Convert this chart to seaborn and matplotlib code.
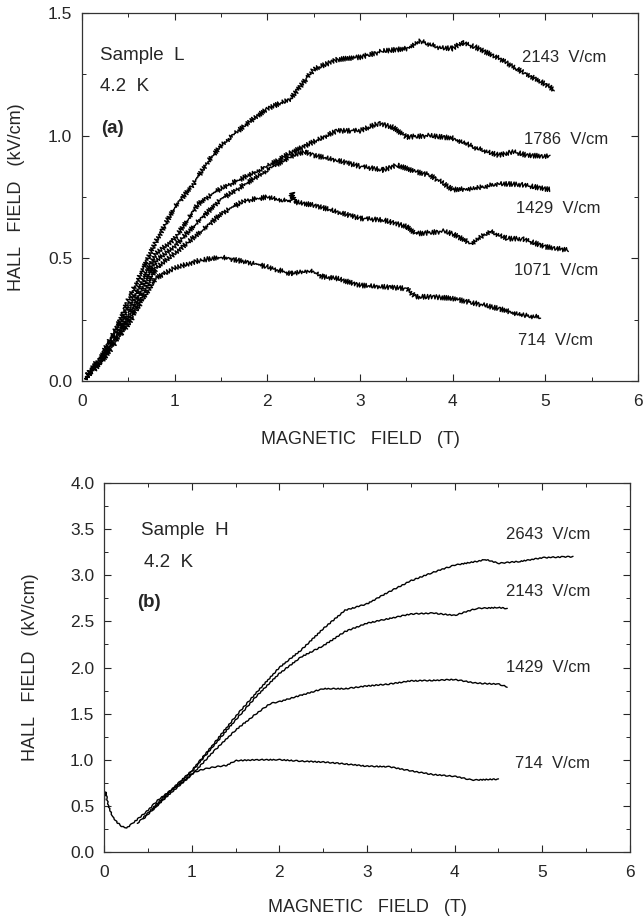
import numpy as np
import pandas as pd
import matplotlib
matplotlib.use("Agg")
import matplotlib.pyplot as plt
from matplotlib.ticker import MultipleLocator, FormatStrFormatter
import seaborn as sns

sns.set_style("ticks")
plt.rcParams['font.family'] = ['Liberation Sans', 'DejaVu Sans']
plt.rc('font', size=12.)
plt.rc('xtick', labelsize=12.5, direction='in', top=True)
plt.rc('ytick', labelsize=12.5, direction='in', right=True)
plt.rc('xtick.major', size=5, width=0.8, pad=9)
plt.rc('ytick.major', size=5, width=0.8, pad=7)
plt.rc('xtick.minor', size=3, width=0.7, visible=True)
plt.rc('ytick.minor', size=3, width=0.7, visible=True)
plt.rc('axes', linewidth=0.9, edgecolor='#333333')

# ---- panel (a): sample L ----
a_x_2143 = [0.03, 0.1, 0.2, 0.35, 0.5, 0.65, 0.8, 1.0, 1.2, 1.35, 1.5, 1.75, 2.0, 2.25, 2.5,
            2.75, 3.0, 3.25, 3.5, 3.65, 3.85, 4.0, 4.1, 4.25, 4.5, 4.75, 5.0, 5.1]
a_y_2143 = [0.01, 0.05, 0.1, 0.2, 0.33, 0.45, 0.57, 0.71, 0.8, 0.89, 0.96, 1.04, 1.11, 1.15, 1.27,
            1.31, 1.32, 1.345, 1.355, 1.385, 1.36, 1.355, 1.38, 1.36, 1.315, 1.26, 1.21, 1.185]
a_x_1786 = [0.03, 0.2, 0.35, 0.5, 0.65, 0.8, 1.0, 1.25, 1.5, 1.75, 2.0, 2.25, 2.5, 2.75, 3.0,
            3.2, 3.35, 3.5, 3.75, 4.0, 4.25, 4.5, 4.65, 4.8, 5.05]
a_y_1786 = [0.01, 0.09, 0.19, 0.3, 0.41, 0.52, 0.58, 0.72, 0.785, 0.83, 0.875, 0.93, 0.975, 1.02, 1.02,
            1.05, 1.035, 0.995, 1.0, 0.99, 0.95, 0.92, 0.935, 0.92, 0.915]
a_x_1429 = [0.03, 0.2, 0.35, 0.5, 0.65, 0.8, 1.0, 1.25, 1.5, 1.75, 2.0, 2.25, 2.4, 2.5, 2.75,
            3.0, 3.25, 3.4, 3.6, 3.75, 3.9, 4.0, 4.25, 4.5, 4.75, 5.05]
a_y_1429 = [0.01, 0.08, 0.17, 0.27, 0.38, 0.49, 0.55, 0.65, 0.74, 0.80, 0.86, 0.915, 0.935, 0.92, 0.90,
            0.875, 0.86, 0.88, 0.853, 0.84, 0.805, 0.78, 0.785, 0.805, 0.80, 0.78]
a_x_1071 = [0.03, 0.2, 0.35, 0.5, 0.65, 0.8, 1.0, 1.25, 1.5, 1.75, 2.0, 2.25, 2.27, 2.29, 2.5,
            2.75, 3.0, 3.25, 3.5, 3.6, 3.9, 4.0, 4.2, 4.4, 4.6, 4.75, 5.0, 5.25]
a_y_1071 = [0.01, 0.08, 0.16, 0.25, 0.35, 0.46, 0.52, 0.6, 0.68, 0.735, 0.75, 0.73, 0.77, 0.73, 0.717,
            0.69, 0.663, 0.656, 0.63, 0.60, 0.61, 0.60, 0.56, 0.61, 0.58, 0.58, 0.547, 0.533]
a_x_714 = [0.03, 0.2, 0.35, 0.5, 0.65, 0.8, 1.0, 1.25, 1.5, 1.75, 2.0, 2.25, 2.45, 2.6, 2.75,
           3.0, 3.25, 3.5, 3.6, 3.8, 4.0, 4.25, 4.5, 4.75, 4.95]
a_y_714 = [0.01, 0.07, 0.15, 0.23, 0.33, 0.42, 0.46, 0.49, 0.506, 0.486, 0.465, 0.438, 0.45, 0.425, 0.418,
           0.39, 0.384, 0.377, 0.343, 0.343, 0.336, 0.316, 0.295, 0.268, 0.26]

a_labels = ['2143  V/cm', '1786  V/cm', '1429  V/cm', '1071  V/cm', '714  V/cm']
a_label_x = [4.75, 4.77, 4.68, 4.66, 4.71]
a_label_y = [1.318, 0.986, 0.703, 0.452, 0.166]

# ---- panel (b): sample H ----
b_x_2643 = [0.38, 0.5, 0.6, 0.75, 1.0, 1.25, 1.5, 1.75, 2.0, 2.25, 2.5, 2.75, 3.0, 3.25, 3.5,
            3.75, 4.0, 4.25, 4.35, 4.5, 4.75, 5.0, 5.25, 5.35]
b_y_2643 = [0.31, 0.42, 0.52, 0.66, 0.88, 1.17, 1.47, 1.74, 2.0, 2.19, 2.42, 2.62, 2.69, 2.82, 2.94,
            3.03, 3.11, 3.15, 3.17, 3.13, 3.15, 3.19, 3.2, 3.2]
b_x_2143 = [0.45, 0.6, 0.75, 1.0, 1.25, 1.5, 1.75, 2.0, 2.25, 2.5, 2.75, 3.0, 3.25, 3.5, 3.75,
            4.0, 4.25, 4.5, 4.6]
b_y_2143 = [0.36, 0.5, 0.65, 0.87, 1.15, 1.43, 1.70, 1.935, 2.115, 2.235, 2.39, 2.48, 2.53, 2.58, 2.59,
            2.565, 2.64, 2.65, 2.64]
b_x_1429 = [0.55, 0.75, 1.0, 1.25, 1.5, 1.75, 1.9, 2.0, 2.25, 2.5, 2.75, 3.0, 3.25, 3.5, 3.75,
            4.0, 4.25, 4.5, 4.6]
b_y_1429 = [0.45, 0.63, 0.835, 1.09, 1.32, 1.51, 1.61, 1.63, 1.70, 1.77, 1.77, 1.80, 1.82, 1.855, 1.86,
            1.87, 1.83, 1.82, 1.79]
b_x_714 = [0.0, 0.02, 0.05, 0.1, 0.15, 0.2, 0.26, 0.35, 0.5, 0.6, 0.75, 0.9, 1.0, 1.1, 1.25,
           1.4, 1.5, 1.75, 2.0, 2.25, 2.5, 2.75, 3.0, 3.25, 3.5, 3.75, 4.0, 4.2, 4.5]
b_y_714 = [0.55, 0.65, 0.5, 0.38, 0.32, 0.28, 0.26, 0.33, 0.45, 0.55, 0.66, 0.76, 0.85, 0.89, 0.92,
           0.94, 0.99, 1.0, 1.0, 0.985, 0.975, 0.955, 0.93, 0.925, 0.88, 0.84, 0.82, 0.78, 0.79]

b_labels = ['2643  V/cm', '2143  V/cm', '1429  V/cm', '714  V/cm']
b_label_x = [4.58, 4.58, 4.59, 4.69]
b_label_y = [3.44, 2.82, 2.0, 0.96]


def long_frame(curves):
    rows = []
    for name, xs, ys in curves:
        for i, (x, y) in enumerate(zip(xs, ys)):
            rows.append((name, i, x, y))
    return pd.DataFrame(rows, columns=['field', 'i', 'B', 'E'])


df_a = long_frame([('2143', a_x_2143, a_y_2143), ('1786', a_x_1786, a_y_1786),
                   ('1429', a_x_1429, a_y_1429), ('1071', a_x_1071, a_y_1071),
                   ('714', a_x_714, a_y_714)])
df_b = long_frame([('2643', b_x_2643, b_y_2643), ('2143', b_x_2143, b_y_2143),
                   ('1429', b_x_1429, b_y_1429), ('714', b_x_714, b_y_714)])

fig = plt.figure(figsize=(6.44, 9.22), dpi=100)
ax1 = fig.add_axes([82/644, 1-381/922, 556/644, 368/922])
ax2 = fig.add_axes([104/644, 1-852/922, 526/644, 369/922])

sns.lineplot(data=df_a, x='B', y='E', units='field', estimator=None, sort=False,
             color='black', lw=1.0, ax=ax1)
sns.lineplot(data=df_b, x='B', y='E', units='field', estimator=None, sort=False,
             color='black', lw=1.0, ax=ax2)

# jagged trace look (rendering only)
for ln in ax1.lines:
    ln.set_sketch_params(scale=2.4, length=2.6, randomness=1.5)
for ln in ax2.lines:
    ln.set_sketch_params(scale=0.5, length=5.0, randomness=2.0)

for ax, ymax in [(ax1, 1.5), (ax2, 4.0)]:
    ax.set_xlim(0, 6)
    ax.set_ylim(0, ymax)
    ax.xaxis.set_major_locator(MultipleLocator(1))
    ax.xaxis.set_minor_locator(MultipleLocator(0.5))
    ax.yaxis.set_major_locator(MultipleLocator(0.5))
    ax.yaxis.set_minor_locator(MultipleLocator(0.25))
    ax.yaxis.set_major_formatter(FormatStrFormatter('%.1f'))
    ax.set_xlabel('MAGNETIC   FIELD   (T)', fontsize=13)
    ax.set_ylabel('HALL   FIELD   (kV/cm)', fontsize=13)

ax1.xaxis.set_label_coords(0.5, -0.135)
ax1.yaxis.set_label_coords(-0.103, 0.5)
ax2.xaxis.set_label_coords(0.5, -0.128)
ax2.yaxis.set_label_coords(-0.124, 0.5)

ax1.text(0.19, 1.327, 'Sample  L', fontsize=13.5, va='center')
ax1.text(0.19, 1.2, '4.2  K', fontsize=13.5, va='center')
ax1.text(0.21, 1.03, '(a)', fontsize=13.5, fontweight='bold', va='center')
for t, x, y in zip(a_labels, a_label_x, a_label_y):
    ax1.text(x, y, t, fontsize=12, va='center')

ax2.text(0.42, 3.485, 'Sample  H', fontsize=13.5, va='center')
ax2.text(0.455, 3.14, '4.2  K', fontsize=13.5, va='center')
ax2.text(0.38, 2.71, '(b)', fontsize=13.5, fontweight='bold', va='center')
for t, x, y in zip(b_labels, b_label_x, b_label_y):
    ax2.text(x, y, t, fontsize=12, va='center')

fig.savefig('out.png', dpi=100)
